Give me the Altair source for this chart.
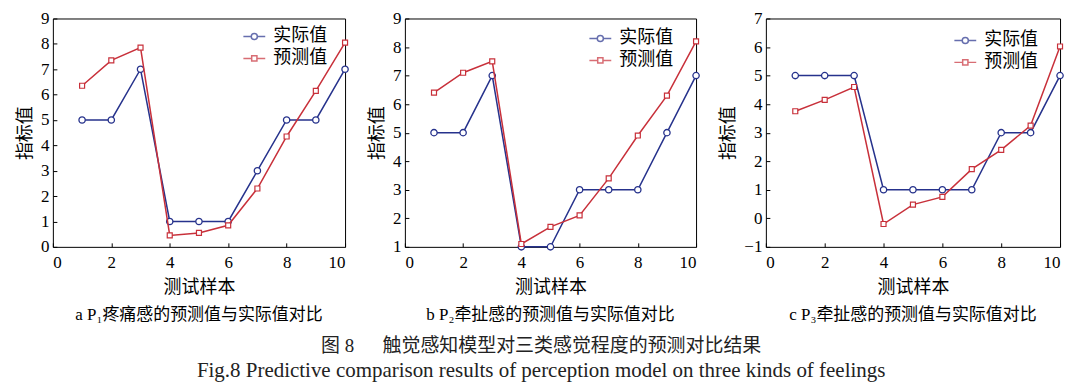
import altair as alt
import pandas as pd

samples = [1, 2, 3, 4, 5, 6, 7, 8, 9, 10]
series_names = ["实际值", "预测值"]

p1_actual = [5, 5, 7, 1, 1, 1, 3, 5, 5, 7]
p1_pred = [6.35, 7.35, 7.85, 0.45, 0.55, 0.85, 2.3, 4.35, 6.15, 8.05]

p2_actual = [5, 5, 7, 1, 1, 3, 3, 3, 5, 7]
p2_pred = [6.4, 7.1, 7.5, 1.1, 1.7, 2.1, 3.4, 4.9, 6.3, 8.2]

p3_actual = [5, 5, 5, 1, 1, 1, 1, 3, 3, 5]
p3_pred = [3.75, 4.15, 4.6, -0.2, 0.48, 0.75, 1.72, 2.4, 3.25, 6.02]

x_ticks = [0, 2, 4, 6, 8, 10]
captions = ["a  P₁疼痛感的预测值与实际值对比", "b  P₂牵扯感的预测值与实际值对比", "c  P₃牵扯感的预测值与实际值对比"]
x_title = "测试样本"
y_title = "指标值"
fig_title = "图 8\u3000\u2002触觉感知模型对三类感觉程度的预测对比结果"
fig_subtitle = "Fig.8 Predictive comparison results of perception model on three kinds of feelings"

BLUE = "#26328c"
RED = "#c8303a"
SERIF = "Liberation Serif, Noto Sans CJK SC"
CJK = "Liberation Serif, Noto Sans CJK SC"

circle_path = "M-1,0H-0.28M0.28,0H1M-0.28,0A0.28,0.28,0,1,0,0.28,0A0.28,0.28,0,1,0,-0.28,0"
square_path = "M-1,0H-0.24M0.24,0H1M-0.24,-0.24H0.24V0.24H-0.24Z"

AX = dict(grid=False, labelFont=SERIF, labelFontSize=17, labelColor="black",
          titleFont=CJK, titleFontSize=18, titleFontWeight="normal", titleColor="black")


def panel(actual, pred, ydom, caption, width, lx, ly):
    df = pd.DataFrame({
        "sample": samples * 2,
        "value": actual + pred,
        "series": [series_names[0]] * len(samples) + [series_names[1]] * len(samples),
    })
    xs = alt.Scale(domain=[0, 10], nice=False, zero=False)
    ys = alt.Scale(domain=ydom, nice=False, zero=False)
    yvals = list(range(ydom[0], ydom[1] + 1))
    base = alt.Chart(df)

    x_main = alt.X("sample:Q", scale=xs, axis=alt.Axis(values=x_ticks, title=x_title, ticks=False,
                                                        domain=False, labelPadding=8, titlePadding=8, **AX))
    y_main = alt.Y("value:Q", scale=ys, axis=alt.Axis(values=yvals, title=y_title, ticks=False,
                                                       domain=False, labelPadding=4, titlePadding=6, **AX))
    x_none = alt.X("sample:Q", scale=xs, axis=None)
    y_none = alt.Y("value:Q", scale=ys, axis=None)

    line_a = base.transform_filter(alt.datum.series == series_names[0]).mark_line(
        color=BLUE, strokeWidth=1.5,
        point=alt.OverlayMarkDef(shape="circle", filled=True, fill="white", stroke=BLUE,
                                 strokeWidth=1.3, size=40)
    ).encode(x=x_main, y=y_main)

    line_p = base.transform_filter(alt.datum.series == series_names[1]).mark_line(
        color=RED, strokeWidth=1.5,
        point=alt.OverlayMarkDef(shape="square", filled=True, fill="white", stroke=RED,
                                 strokeWidth=1.2, size=25)
    ).encode(x=x_none, y=y_none)

    leg = alt.Legend(title=None, orient="none", legendX=lx, legendY=ly,
                     labelFontSize=18, labelFont=CJK, labelColor="black",
                     symbolSize=480, symbolStrokeWidth=1.5, rowPadding=1, labelOffset=7)
    legend_layer = base.transform_filter("false").mark_point(filled=False, size=480).encode(
        x=x_none, y=y_none,
        color=alt.Color("series:N", scale=alt.Scale(domain=series_names, range=[BLUE, RED]), legend=leg),
        shape=alt.Shape("series:N", scale=alt.Scale(domain=series_names, range=[circle_path, square_path]),
                        legend=leg),
    )

    tick_layer = base.transform_filter("false").mark_point().encode(
        x=alt.X("sample:Q", scale=xs, axis=alt.Axis(values=x_ticks, labels=False, domain=False, title=None,
                                                     grid=False, ticks=True, tickSize=4, offset=-4,
                                                     tickColor="black", orient="bottom")),
        y=alt.Y("value:Q", scale=ys, axis=alt.Axis(values=yvals, labels=False, domain=False, title=None,
                                                    grid=False, ticks=True, tickSize=4, offset=-4,
                                                    tickColor="black", orient="left")),
    )

    return alt.layer(line_a, line_p, legend_layer, tick_layer).resolve_axis(
        x="independent", y="independent"
    ).properties(
        width=width, height=229,
        title=alt.TitleParams(caption, orient="bottom", fontSize=17, font=CJK, fontWeight="normal",
                              color="black", offset=10, anchor="middle"),
    )


c1 = panel(p1_actual, p1_pred, [0, 9], captions[0], 293, 190, 6)
c2 = panel(p2_actual, p2_pred, [1, 9], captions[1], 292, 184, 8)
c3 = panel(p3_actual, p3_pred, [-1, 7], captions[2], 295, 188, 10)

chart = alt.hconcat(c1, c2, c3, spacing=16).resolve_scale(
    color="independent", shape="independent"
).resolve_legend(color="independent", shape="independent").properties(
    title=alt.TitleParams(fig_title, subtitle=fig_subtitle, orient="bottom", anchor="middle",
                          fontSize=19, font=CJK, fontWeight="normal", color="#222",
                          subtitleFont=SERIF, subtitleFontSize=21, subtitleColor="#222", offset=14,
                          subtitlePadding=4),
    padding={"top": 0, "left": 8, "right": 5, "bottom": 0},
    background="white",
).configure_view(stroke="black", strokeWidth=1).configure_axis(**AX)

chart.save("out.html", embed_options={"renderer": "svg", "actions": False})
